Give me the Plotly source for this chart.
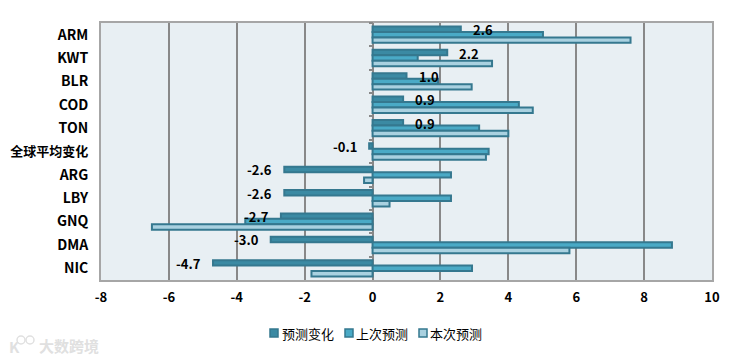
import plotly.graph_objects as go

categories = ["ARM", "KWT", "BLR", "COD", "TON", "全球平均变化", "ARG", "LBY", "GNQ", "DMA", "NIC"]
change = [2.6, 2.2, 1.0, 0.9, 0.9, -0.1, -2.6, -2.6, -2.7, -3.0, -4.7]
previous = [5.02, 1.33, 1.93, 4.31, 3.14, 3.42, 2.31, 2.31, -3.75, 8.82, 2.93]
current = [7.6, 3.52, 2.92, 4.72, 4.0, 3.34, -0.25, 0.5, -6.5, 5.8, -1.8]
series_names = ["预测变化", "上次预测", "本次预测"]
x_ticks = [-8, -6, -4, -2, 0, 2, 4, 6, 8, 10]

CJK = "Noto Sans CJK SC"
EDGE = "#35788f"
GRID = "#888888"
FRAME = "#a6a6a6"
MARK = "#e0e0e0"
FILLS = ["#3b8aa3", "#4aaac6", "#a9d1e0"]
W, H = 744, 360
ML, MR, MT, MB = 101, 32, 23, 80

def px(x):
    return (x - ML) / (W - ML - MR)

def py(y):
    return 1 - (y - MT) / (H - MT - MB)

fig = go.Figure()
for name, vals, fill in zip(series_names, [change, previous, current], FILLS):
    fig.add_trace(go.Bar(
        y=categories, x=vals, name=name, orientation="h", showlegend=False,
        marker=dict(color=fill, line=dict(color=EDGE, width=2)),
    ))

# invisible carrier for the tick marks on the zero line
fig.add_trace(go.Scatter(y=categories, x=[0] * len(categories), yaxis="y2",
                         mode="lines", opacity=0, showlegend=False, hoverinfo="skip"))

for c, v in zip(categories, change):
    fig.add_annotation(
        x=v, y=c, text=f"{v:.1f}", showarrow=False,
        xanchor="left" if v >= 0 else "right",
        xshift=10 if v >= 0 else -10, yshift=5,
        font=dict(family=CJK, size=13, color="#000000", weight="bold"),
    )

# legend row, laid out as in the reference
for name, fill, sx, tx in zip(series_names, FILLS, [270, 345, 419], [281, 355, 429]):
    fig.add_shape(type="rect", xref="paper", yref="paper",
                  x0=px(sx), x1=px(sx + 8), y0=py(337), y1=py(329),
                  fillcolor=fill, line=dict(color=EDGE, width=1.5))
    fig.add_annotation(xref="paper", yref="paper", x=px(tx), y=py(333),
                       xanchor="left", yanchor="middle", text=name, showarrow=False,
                       xshift=-1, font=dict(family=CJK, size=13, color="#000000"))

# watermark
fig.add_annotation(
    xref="paper", yref="paper", x=px(37), y=py(345), xanchor="left", yanchor="middle",
    text="大数跨境", showarrow=False,
    font=dict(family=CJK, size=15, color=MARK, weight="bold"),
)
fig.add_annotation(
    xref="paper", yref="paper", x=px(7), y=py(346), xanchor="left", yanchor="middle",
    text="K", showarrow=False, font=dict(family=CJK, size=15, color=MARK, weight="bold"),
)
for cx in (21, 30):
    fig.add_shape(type="circle", xref="paper", yref="paper",
                  x0=px(cx - 4), x1=px(cx + 4), y0=py(344), y1=py(336),
                  fillcolor="rgba(0,0,0,0)", line=dict(color=MARK, width=1.5))

def y_label(c):
    return c if c.isascii() else f'<span style="font-size:13px">{c}</span>'

fig.update_layout(
    width=W, height=H, autosize=False,
    margin=dict(l=ML, r=MR, t=MT, b=MB, autoexpand=False),
    paper_bgcolor="#ffffff", plot_bgcolor="#e8eff3",
    barmode="group", bargap=0.3, bargroupgap=0,
    font=dict(family=CJK, size=12, color="#000000"),
    showlegend=False,
    xaxis=dict(
        range=[-8, 10], tickvals=x_ticks, ticktext=[str(t) for t in x_ticks],
        showgrid=True, gridcolor=GRID, gridwidth=2,
        zeroline=True, zerolinecolor=GRID, zerolinewidth=2,
        showline=True, mirror=True, linecolor=FRAME, linewidth=2,
        ticks="", ticklabelstandoff=4,
        tickfont=dict(family=CJK, size=13, weight="bold"),
    ),
    yaxis=dict(
        type="category", categoryorder="array", categoryarray=categories,
        tickvals=categories, ticktext=[y_label(c) for c in categories],
        range=[10.5, -0.5], showgrid=False, zeroline=False,
        showline=True, mirror=True, linecolor=FRAME, linewidth=2,
        ticks="", ticklabelstandoff=8,
        tickfont=dict(family=CJK, size=14, weight="bold"),
    ),
    yaxis2=dict(
        type="category", categoryorder="array", categoryarray=categories,
        range=[10.5, -0.5], overlaying="y", anchor="free", side="left",
        position=8 / 18, showgrid=False, zeroline=False, showline=False,
        ticks="outside", tickson="boundaries", ticklen=4, tickcolor=GRID, tickwidth=2,
        showticklabels=False,
    ),
)

fig.write_html("out.html", config={"displayModeBar": False},
               post_script="document.body.style.margin='0';")
